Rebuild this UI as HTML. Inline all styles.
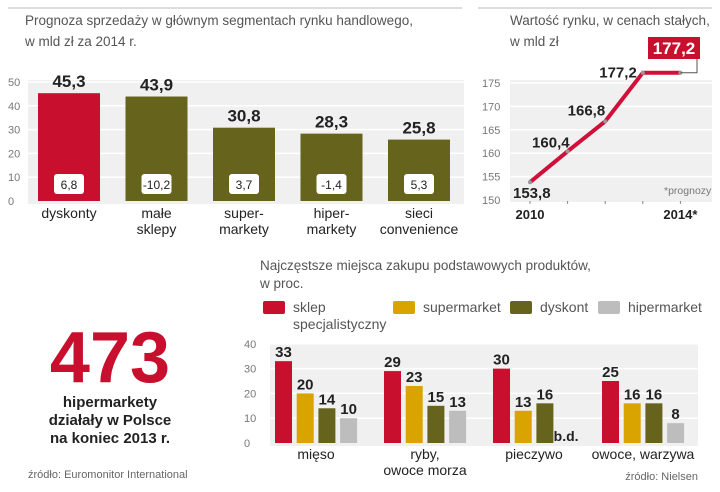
<!DOCTYPE html>
<html><head><meta charset="utf-8"><style>
body{margin:0;width:720px;height:487px;background:#fff;overflow:hidden;font-family:"Liberation Sans",sans-serif}
svg text{font-family:"Liberation Sans",sans-serif}
</style></head><body>
<svg id="s" width="720" height="487">
<line x1="8" y1="8" x2="462" y2="8" stroke="#ddd" stroke-width="2"/>
<line x1="478" y1="8" x2="712" y2="8" stroke="#ddd" stroke-width="2"/>
<text x="25" y="25" font-size="13.5" fill="#555">Prognoza sprzedaży w głównym segmentach rynku handlowego,</text>
<text x="25" y="46" font-size="13.5" fill="#555">w mld zł za 2014 r.</text>
<rect x="28" y="80" width="436" height="124" fill="#f0f0f0"/>
<g id="c1"></g>
<text x="510" y="25" font-size="13.5" fill="#555">Wartość rynku, w cenach stałych,</text>
<text x="510" y="46" font-size="13.5" fill="#555">w mld zł</text>
<rect x="510" y="80" width="202" height="122" fill="#f0f0f0"/>
<g id="c2"></g>
<text x="664" y="194" font-size="10.5" fill="#777">*prognozy</text>
<text x="110" y="382" font-size="72" font-weight="bold" fill="#c8102e" text-anchor="middle">473</text>
<text x="110" y="407" font-size="15" font-weight="bold" fill="#222" text-anchor="middle">hipermarkety</text>
<text x="110" y="425" font-size="15" font-weight="bold" fill="#222" text-anchor="middle">działały w Polsce</text>
<text x="110" y="443" font-size="15" font-weight="bold" fill="#222" text-anchor="middle">na koniec 2013 r.</text>
<text x="28" y="478" font-size="11" fill="#666">źródło: Euromonitor International</text>
<text x="260" y="270" font-size="13.5" fill="#555">Najczęstsze miejsca zakupu podstawowych produktów,</text>
<text x="260" y="288" font-size="13.5" fill="#555">w proc.</text>
<rect x="270" y="343" width="428" height="103" fill="#f0f0f0"/>
<g id="c3"></g>
<text x="698" y="480" font-size="11" fill="#666" text-anchor="end">źródło: Nielsen</text>
</svg>
<script>
const cats1=["dyskonty","małe|sklepy","super-|markety","hiper-|markety","sieci|convenience"];
const vals1=[45.3,43.9,30.8,28.3,25.8];
const changes1=["6,8","-10,2","3,7","-1,4","5,3"];
const ticks1=[0,10,20,30,40,50];
const years2=["2010","2011","2012","2013","2014"];
const vals2=[153.8,160.4,166.8,177.2,177.2];
const ticks2=[150,155,160,165,170,175];
const cats3=["mięso","ryby,|owoce morza","pieczywo","owoce, warzywa"];
const seriesNames3=["sklep|specjalistyczny","supermarket","dyskont","hipermarket"];
const sSklep=[33,29,30,25];
const sSuper=[20,23,13,16];
const sDysk=[14,15,16,16];
const sHiper=[10,13,null,8];
const ticks3=[0,10,20,30,40];
const NS="http://www.w3.org/2000/svg";
function mk(p,tag,a,txt){const e=document.createElementNS(NS,tag);for(const k in a)e.setAttribute(k,a[k]);if(txt!=null)e.textContent=txt;p.appendChild(e);return e;}
const fmt=v=>v.toFixed(1).replace('.',',');
// chart 1
const g1=document.getElementById('c1');
const y1=v=>201-v*2.38, x1=i=>38+i*87.5;
ticks1.forEach(t=>{
 if(t>0){const l=mk(g1,'line',{x1:28,x2:464,y1:y1(t),y2:y1(t),stroke:'#fff','stroke-width':1.5});}
 const e=mk(g1,'text',{x:8,y:y1(t)+4,'font-size':11,fill:'#777'},t);
 
});
vals1.forEach((v,i)=>{
 const r=mk(g1,'rect',{x:x1(i),y:y1(v),width:62,height:y1(0)-y1(v),fill:i==0?'#c8102e':'#66631d'});
 
 const t=mk(g1,'text',{x:x1(i)+31,y:y1(v)-6,'font-size':17,'font-weight':'bold','text-anchor':'middle',fill:'#222'},fmt(v));
 
 const b=mk(g1,'rect',{x:x1(i)+16,y:174,width:30,height:20,rx:3,fill:'#fff'});
 
 const c=mk(g1,'text',{x:x1(i)+31,y:189,'font-size':12,'text-anchor':'middle',fill:'#222'},changes1[i]);
 
 cats1[i].split('|').forEach((s,j)=>{const l=mk(g1,'text',{x:x1(i)+31,y:218+j*16,'font-size':14,'text-anchor':'middle',fill:'#222'},s);
 });
});
// chart 2
const g2=document.getElementById('c2');
const y2=v=>200-(v-150)*4.68, x2=i=>530+i*37.6;
ticks2.forEach(t=>{
 if(t>150){const l=mk(g2,'line',{x1:510,x2:712,y1:y2(t),y2:y2(t),stroke:'#fff','stroke-width':1.5});}
 const e=mk(g2,'text',{x:482,y:y2(t)+4,'font-size':11,fill:'#777'},t);
 
});
years2.forEach((y,i)=>{const tk=mk(g2,'line',{x1:x2(i),x2:x2(i),y1:201,y2:204,stroke:'#888'});});
[[0,'2010'],[4,'2014*']].forEach(([i,s])=>{const t=mk(g2,'text',{x:x2(i),y:219,'font-size':13,'font-weight':'bold','text-anchor':'middle',fill:'#222'},s);});
const pl=mk(g2,'polyline',{points:vals2.map((v,i)=>x2(i)+','+y2(v)).join(' '),fill:'none',stroke:'#d0103a','stroke-width':4});

const off=[[-17,16],[2,-4],[0,-6],[-6,5]];
vals2.forEach((v,i)=>{
 const p=mk(g2,'circle',{cx:x2(i),cy:y2(v),r:2,fill:'#999'});
 if(i<4){const t=mk(g2,'text',{x:x2(i)+off[i][0],y:y2(v)+off[i][1],'font-size':15,'font-weight':'bold','text-anchor':i==0?'start':'end',fill:'#222'},fmt(v));
 }
});
const last=vals2.length-1;
const cl=mk(g2,'polyline',{points:`${x2(last)},${y2(vals2[last])} 697,${y2(vals2[last])} 697,58`,fill:'none',stroke:'#555'});

const bx=mk(g2,'rect',{x:648,y:37,width:52,height:22,fill:'#c8102e'});
const bt=mk(g2,'text',{x:674,y:54,'font-size':17,'font-weight':'bold','text-anchor':'middle',fill:'#fff'},fmt(vals2[last]));
// chart 3
const g3=document.getElementById('c3');
const series3=[sSklep,sSuper,sDysk,sHiper];
const colors3=['#c8102e','#d9a400','#66631d','#bdbdbd'];
const y3=v=>443-v*2.48, x3=(g,s)=>275+g*109+s*21.7;
ticks3.forEach(t=>{
 if(t>0){const l=mk(g3,'line',{x1:270,x2:698,y1:y3(t),y2:y3(t),stroke:'#fff','stroke-width':1.5});}
 const e=mk(g3,'text',{x:244,y:y3(t)+4,'font-size':11,fill:'#777'},t);
 
});
const legX=[263,393,510,598];
seriesNames3.forEach((n,s)=>{
 const r=mk(g3,'rect',{x:legX[s],y:301,width:22,height:13,rx:2,fill:colors3[s]});
 n.split('|').forEach((p,j)=>{const t=mk(g3,'text',{x:legX[s]+30,y:312+j*17,'font-size':14,fill:'#555'},p);});
});
cats3.forEach((c,g)=>{
 series3.forEach((arr,s)=>{
  const v=arr[g];
  if(v==null){const t=mk(g3,'text',{x:x3(g,s)+8,y:441,'font-size':14,'font-weight':'bold','text-anchor':'middle',fill:'#222'},'b.d.');return;}
  const r=mk(g3,'rect',{x:x3(g,s),y:y3(v),width:17,height:y3(0)-y3(v),fill:colors3[s]});
  
  const t=mk(g3,'text',{x:x3(g,s)+8.5,y:y3(v)-4,'font-size':15,'font-weight':'bold','text-anchor':'middle',fill:'#222'},v);
  
 });
 c.split('|').forEach((p,j)=>{const t=mk(g3,'text',{x:x3(g,0)+41,y:459+j*16,'font-size':14,'text-anchor':'middle',fill:'#222'},p);});
});
</script>
</body></html>
